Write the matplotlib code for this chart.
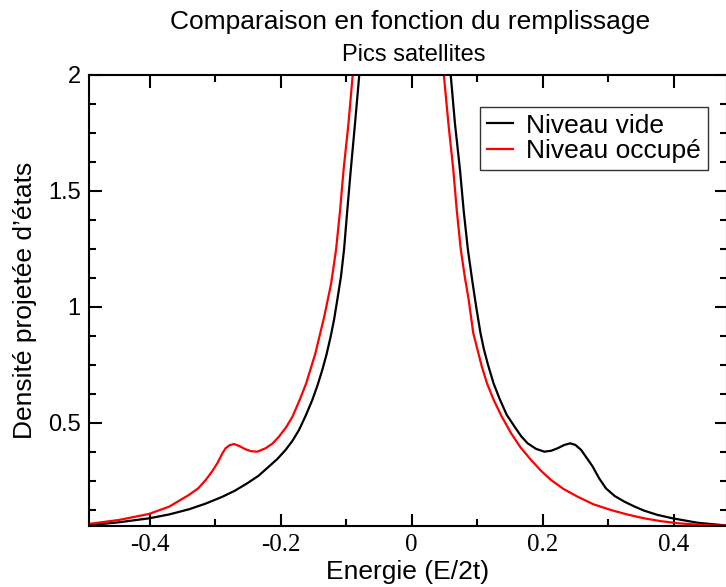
import matplotlib
matplotlib.use("Agg")
import matplotlib.pyplot as plt
from matplotlib.ticker import MultipleLocator, FixedLocator

# ---- data ----
vide_x = [-0.4925, -0.447, -0.401, -0.370, -0.340, -0.315, -0.289, -0.270, -0.251,
          -0.234, -0.218, -0.205, -0.1924, -0.182, -0.172, -0.162, -0.1517, -0.144,
          -0.1365, -0.130, -0.1237, -0.1185, -0.1136, -0.108, -0.1033, -0.0985,
          -0.093, -0.0865, -0.080, -0.070, -0.010, 0.050, 0.0595, 0.066, 0.0737,
          0.0795, 0.0858, 0.093, 0.099, 0.105, 0.110, 0.116, 0.125, 0.134, 0.145,
          0.157, 0.167, 0.177, 0.190, 0.2025, 0.213, 0.223, 0.233, 0.2421, 0.250,
          0.2585, 0.267, 0.2763, 0.286, 0.2966, 0.310, 0.3246, 0.340, 0.355, 0.375,
          0.3985, 0.4366, 0.477, 0.4815]
vide_y = [0.059, 0.072, 0.089, 0.106, 0.128, 0.152, 0.182, 0.208, 0.240,
          0.272, 0.312, 0.345, 0.384, 0.423, 0.470, 0.530, 0.599, 0.660,
          0.728, 0.795, 0.872, 0.945, 1.030, 1.130, 1.246, 1.410,
          1.590, 1.790, 2.0, 2.4, 3.2, 2.4, 2.0, 1.79, 1.59,
          1.41, 1.246, 1.102, 0.990, 0.887, 0.820, 0.755, 0.670, 0.605, 0.535,
          0.484, 0.443, 0.412, 0.388, 0.376, 0.380, 0.391, 0.405, 0.412, 0.405,
          0.384, 0.350, 0.312, 0.262, 0.218, 0.185, 0.161, 0.140, 0.122, 0.104,
          0.089, 0.070, 0.059, 0.058]

occ_x = [-0.4925, -0.447, -0.401, -0.3705, -0.340, -0.326, -0.3145, -0.305, -0.2968,
         -0.289, -0.284, -0.278, -0.2713, -0.263, -0.2535, -0.245, -0.2357, -0.223,
         -0.213, -0.2026, -0.192, -0.182, -0.171, -0.161, -0.147, -0.1335, -0.123,
         -0.1155, -0.1095, -0.104, -0.0965, -0.090, -0.080, -0.020, 0.040, 0.049, 0.056,
         0.0635, 0.069, 0.075, 0.081, 0.087, 0.094, 0.100, 0.107, 0.115, 0.125, 0.137,
         0.1516, 0.166, 0.182, 0.197, 0.2127, 0.232, 0.2534, 0.277, 0.304, 0.330,
         0.355, 0.380, 0.406, 0.430, 0.457, 0.4815]
occ_y = [0.065, 0.082, 0.108, 0.139, 0.190, 0.218, 0.254, 0.290, 0.326,
         0.369, 0.391, 0.404, 0.409, 0.400, 0.386, 0.378, 0.376, 0.391,
         0.410, 0.441, 0.480, 0.527, 0.599, 0.671, 0.800, 0.958, 1.100,
         1.246, 1.410, 1.590, 1.790, 2.0, 2.4, 3.2, 2.4, 2.0, 1.79,
         1.59, 1.41, 1.246, 1.130, 1.030, 0.887, 0.820, 0.743, 0.670, 0.600, 0.530,
         0.456, 0.395, 0.341, 0.295, 0.254, 0.215, 0.182, 0.150, 0.125, 0.105,
         0.089, 0.077, 0.068, 0.063, 0.059, 0.057]

series_labels = ["Niveau vide", "Niveau occupé"]
x_ticks = [-0.4, -0.2, 0.0, 0.2, 0.4]
x_ticklabels = ["-0.4", "-0.2", "0", "0.2", "0.4"]
y_ticks = [0.5, 1.0, 1.5, 2.0]
y_ticklabels = ["0.5", "1", "1.5", "2"]

W, H = 726, 587
fig = plt.figure(figsize=(W / 100, H / 100), dpi=100)
l, r, t, b = 89, 727, 74.5, 526
ax = fig.add_axes([l / W, 1 - b / H, (r - l) / W, (b - t) / H])

ax.plot(vide_x, vide_y, color="black", lw=1.6, label=series_labels[0])
ax.plot(occ_x, occ_y, color="red", lw=1.6, label=series_labels[1])

ax.set_xlim(-0.4927, 0.4814)
ax.set_ylim(0.056, 2.0)

ax.xaxis.set_major_locator(FixedLocator(x_ticks))
ax.xaxis.set_minor_locator(MultipleLocator(0.1))
ax.yaxis.set_major_locator(FixedLocator(y_ticks))
ax.yaxis.set_minor_locator(MultipleLocator(0.125))
ax.set_xticklabels(x_ticklabels, fontfamily="Liberation Serif", fontsize=18)
ax.set_yticklabels(y_ticklabels, fontfamily="Liberation Sans", fontsize=17)

ax.tick_params(which="both", direction="in", top=True, right=True, width=1.5)
ax.tick_params(which="major", length=9, pad=6)
ax.tick_params(which="minor", length=5)
for s in ax.spines.values():
    s.set_linewidth(1.5)

ax.set_xlabel("Energie (E/2t)", fontfamily="Liberation Sans", fontsize=19, labelpad=3)
ax.set_ylabel("Densité projetée d’états", fontfamily="Liberation Sans", fontsize=19, labelpad=8)

fig.text(410 / W, 1 - 22 / H, "Comparaison en fonction du remplissage",
         ha="center", va="center", fontfamily="Liberation Sans", fontsize=19)
fig.text(414 / W, 1 - 55 / H, "Pics satellites",
         ha="center", va="center", fontfamily="Liberation Sans", fontsize=17)

leg = ax.legend(loc="upper left", bbox_to_anchor=(480 / W, 1 - 107 / H),
                bbox_transform=fig.transFigure, frameon=True, fancybox=False,
                prop={"family": "Liberation Sans", "size": 19},
                handlelength=1.0, handletextpad=0.5, labelspacing=0.05,
                borderpad=0.25, borderaxespad=0)
leg.get_frame().set_edgecolor("black")
leg.get_frame().set_linewidth(1.0)

fig.savefig("out.png", dpi=100)
